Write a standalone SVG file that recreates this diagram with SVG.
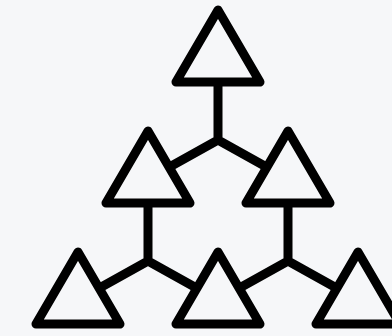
<svg xmlns="http://www.w3.org/2000/svg" width="392" height="336" viewBox="0 0 392 336">
<style>
.tri{fill:#f6f7f9;stroke:#000;stroke-width:9;stroke-linejoin:round}
.con{fill:none;stroke:#000;stroke-width:9;stroke-linejoin:round;stroke-linecap:round}
</style>
<defs>
<polygon id="t" points="0,0 42,72 -42,72"/>
</defs>
<rect width="392" height="336" fill="#f6f7f9"/>
<g id="connectors">
<path class="con" d="M218,82 V140 M148,179 L218,140 L288,179"/>
<path class="con" d="M148,203 V261 M78,300 L148,261 L218,300"/>
<path class="con" d="M288,203 V261 M218,300 L288,261 L358,300"/>
</g>
<g id="n1"><use href="#t" class="tri" x="218" y="10"/></g>
<g id="n2"><use href="#t" class="tri" x="148" y="131"/></g>
<g id="n3"><use href="#t" class="tri" x="288" y="131"/></g>
<g id="n4"><use href="#t" class="tri" x="78" y="252"/></g>
<g id="n5"><use href="#t" class="tri" x="218" y="252"/></g>
<g id="n6"><use href="#t" class="tri" x="358" y="252"/></g>
</svg>
